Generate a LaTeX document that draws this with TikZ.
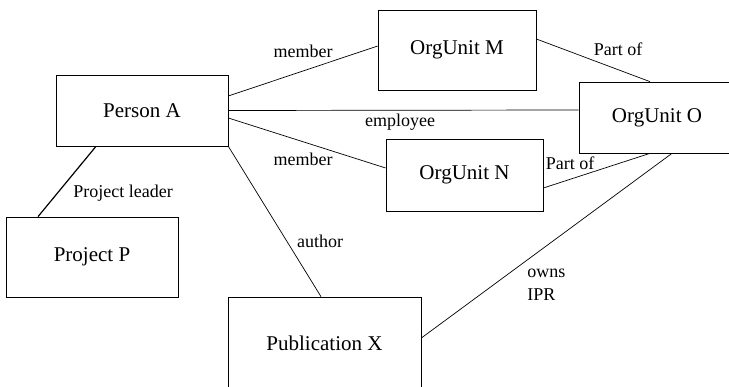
\documentclass[tikz,border=0pt]{standalone}
\usepackage{fontspec}
\setmainfont{Liberation Serif}
\begin{document}
\begin{tikzpicture}[x=1pt, y=-1pt, line width=0.7pt,
    unit/.style = {draw, inner sep=0pt, font=\fontsize{21}{25}\selectfont},
    lbl/.style = {inner sep=0pt, font=\fontsize{18}{23}\selectfont}]
            \useasboundingbox (0,0) rectangle (729,387);
            \clip (0,0) rectangle (729,387);
            \node[unit, minimum width=172pt, minimum height=71pt] (pa) at (142,110.5) {Person A};
            \node[unit, minimum width=158pt, minimum height=80pt] (m) at (457,50) {OrgUnit M};
            \node[unit, minimum width=157pt, minimum height=72pt] (n) at (464.5,175) {OrgUnit N};
            \node[unit, minimum width=156pt, minimum height=71pt] (o) at (657,117.5) {OrgUnit O};
            \node[unit, minimum width=172pt, minimum height=80pt] (pp) at (92,257) {Project P};
            \node[unit, minimum width=193pt, minimum height=92pt] (px) at (324.5,343) {Publication X};
            \node[lbl] (l1) at (303,51) {member};
            \node[lbl] (l2) at (400,122) {employee};
            \node[lbl] (l3) at (303,159) {member};
            \node[lbl] (l4) at (123,193) {Project leader};
            \node[lbl] (l5) at (320,241) {author};
            \node[lbl] (l6) at (618,49) {Part of};
            \node[lbl] (l7) at (570,163) {Part of};
            \node[lbl, align=left, anchor=west] (l8) at (527,284.5) {owns\\IPR};
            \draw ([yshift=14.5pt]pa.east) -- ([yshift=4pt]m.west);
            \draw (pa.east) -- ([yshift=7.5pt]o.west);
            \draw ([yshift=-7.5pt]pa.east) -- ([yshift=7pt]n.west);
            \draw[line width=1.2pt] ([xshift=-46pt]pa.south) -- ([xshift=-54pt]pp.north);
            \draw (pa.south east) -- ([xshift=-3.5pt]px.north);
            \draw ([yshift=11pt]m.east) -- ([xshift=-7pt]o.north);
            \draw ([yshift=-13pt]n.east) -- ([xshift=-7pt]o.south);
            \draw ([xshift=15pt]o.south) -- ([yshift=5pt]px.east);
        \end{tikzpicture}
\end{document}
